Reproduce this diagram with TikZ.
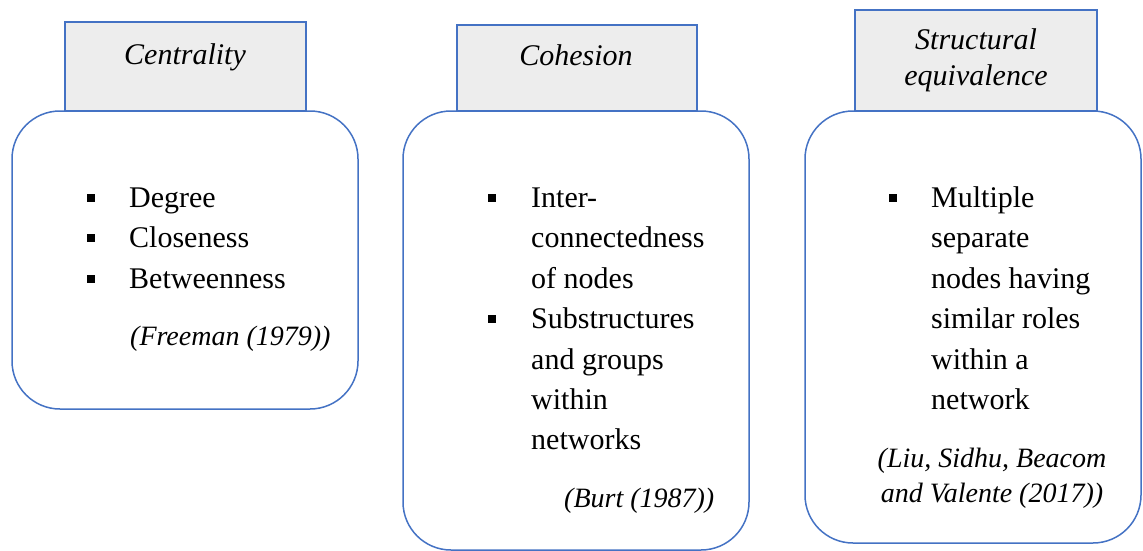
\documentclass[tikz,border=0pt]{standalone}
\usepackage{fontspec}
\setmainfont{LiberationSerif}[Extension=.ttf, UprightFont=*-Regular, ItalicFont=*-Italic, BoldFont=*-Bold, BoldItalicFont=*-BoldItalic]
\definecolor{frameblue}{HTML}{4472C4}
\definecolor{headgray}{HTML}{EDEDED}
\begin{document}
\begin{tikzpicture}[x=1pt,y=-1pt,
  panel/.style={draw=frameblue, line width=1.5pt, rounded corners=48pt, fill=white, inner sep=0pt, outer sep=0pt},
  header/.style={draw=frameblue, line width=1.5pt, fill=headgray, inner sep=0pt, outer sep=0pt},
  headtext/.style={anchor=base, inner sep=0pt, font=\fontsize{30}{36}\selectfont\itshape},
  item/.style={anchor=base west, inner sep=0pt, font=\fontsize{30}{36}\selectfont},
  cite/.style={anchor=base west, inner sep=0pt, font=\fontsize{28}{34}\selectfont\itshape},
  citec/.style={anchor=base, inner sep=0pt, font=\fontsize{28}{34}\selectfont\itshape},
  bullet/.style={fill=black, minimum size=8pt, inner sep=0pt, outer sep=0pt}]
\useasboundingbox (0,0) rectangle (1143,551);

% panels
\node[panel, minimum width=346pt, minimum height=298pt] (p1) at (185,260) {};
\node[panel, minimum width=346pt, minimum height=439pt] (p2) at (576,330.5) {};
\node[panel, minimum width=336pt, minimum height=432pt] (p3) at (973,327) {};

% headers
\node[header, minimum width=241pt, minimum height=89pt] (h1) at (185.5,66.5) {};
\node[header, minimum width=240pt, minimum height=86pt] (h2) at (577,68) {};
\node[header, minimum width=242pt, minimum height=101pt] (h3) at (976,60.5) {};
\node[headtext] (h1t) at (185,64) {Centrality};
\node[headtext] (h2t) at (576,66) {Cohesion};
\node[headtext] (h3ta) at (976,49) {Structural};
\node[headtext] (h3tb) at (976,85) {equivalence};

% centrality
\node[bullet] (b11) at (91,197.5) {};
\node[bullet] (b12) at (91,238) {};
\node[bullet] (b13) at (91,278.5) {};
\node[item] (c1) at (129,207) {Degree};
\node[item] (c2) at (129,247.5) {Closeness};
\node[item] (c3) at (129,288) {Betweenness};
\node[cite] (c4) at (130,345) {(Freeman (1979))};

% cohesion
\node[bullet] (b21) at (492,197.5) {};
\node[bullet] (b22) at (492,319) {};
\node[item] (d1) at (531,207) {Inter-};
\node[item] (d2) at (531,247.5) {connectedness};
\node[item] (d3) at (531,288) {of nodes};
\node[item] (d4) at (531,328.5) {Substructures};
\node[item] (d5) at (531,369) {and groups};
\node[item] (d6) at (531,409) {within};
\node[item] (d7) at (531,449.5) {networks};
\node[cite] (d8) at (564,507) {(Burt (1987))};

% structural equivalence
\node[bullet] (b31) at (893,197.5) {};
\node[item] (e1) at (931,207) {Multiple};
\node[item] (e2) at (931,247.5) {separate};
\node[item] (e3) at (931,288) {nodes having};
\node[item] (e4) at (931,328.5) {similar roles};
\node[item] (e5) at (931,369) {within a};
\node[item] (e6) at (931,409) {network};
\node[citec] (e7) at (992,467) {(Liu, Sidhu, Beacom};
\node[citec] (e8) at (992,502) {and Valente (2017))};
\end{tikzpicture}
\end{document}
